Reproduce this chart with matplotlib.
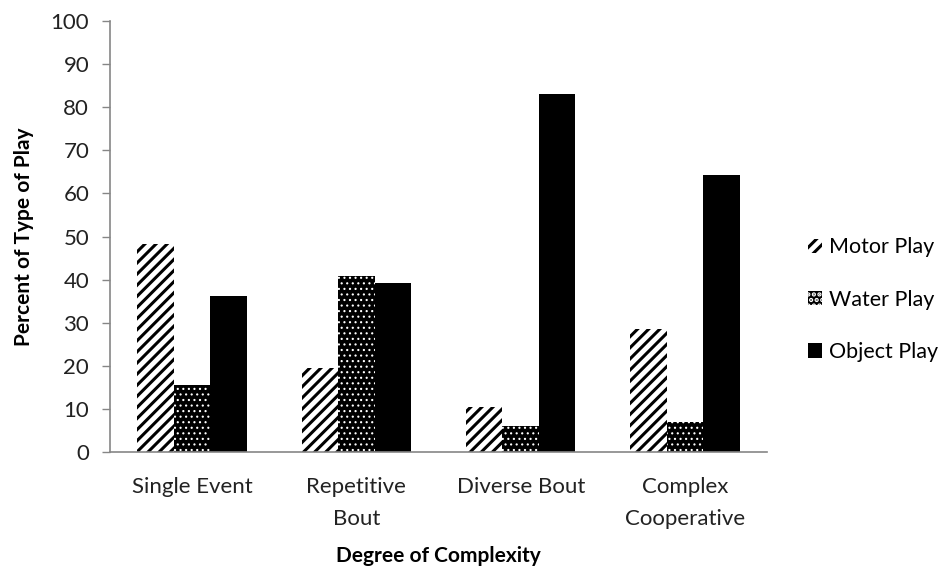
import numpy as np
import matplotlib.pyplot as plt
from matplotlib.patches import Patch

plt.rcParams['font.family'] = ['Lato', 'DejaVu Sans']
plt.rcParams['hatch.linewidth'] = 2.2

categories = ["Single Event", "Repetitive\nBout", "Diverse Bout", "Complex\nCooperative"]
series = ["Motor Play", "Water Play", "Object Play"]
motor = [48.3, 19.5, 10.5, 28.5]
water = [15.6, 40.8, 6.0, 7.0]
objct = [36.2, 39.2, 83.0, 64.2]

fig = plt.figure(figsize=(9.53, 5.71), dpi=100)
ax = fig.add_axes([0.1154, 0.2084, 0.6896, 0.7548])

x = np.arange(len(categories))
w = 0.222

ax.bar(x - w, motor, w, color="white", edgecolor="black", hatch="///", linewidth=0)
with plt.rc_context({'hatch.linewidth': 0.8}):
    ax.bar(x, water, w, color="black", edgecolor="white", hatch="...", linewidth=0)
ax.bar(x + w, objct, w, color="black", edgecolor="black", linewidth=0)

ax.set_xlim(-0.5, len(categories) - 0.5)
ax.set_ylim(0, 100)
ax.set_yticks(np.arange(0, 101, 10))
ax.set_xticks(x)
ax.set_xticklabels(categories, fontsize=16, color="#222222", linespacing=1.75)
ax.tick_params(axis="x", length=0, pad=18)
ax.tick_params(axis="y", length=6, width=1, color="#868686", labelsize=16,
               labelcolor="#222222", pad=9)
for s in ["top", "right"]:
    ax.spines[s].set_visible(False)
for s in ["left", "bottom"]:
    ax.spines[s].set_color("#868686")
    ax.spines[s].set_linewidth(1.2)

ax.set_ylabel("Percent of Type of Play", fontsize=15, fontweight="bold", labelpad=12)
ax.set_xlabel("Degree of Complexity", fontsize=15, fontweight="bold", labelpad=12)

handles = [
    Patch(facecolor="white", edgecolor="black", hatch="///", linewidth=0),
    Patch(facecolor="black", edgecolor="white", hatch="...", linewidth=0),
    Patch(facecolor="black", edgecolor="black", linewidth=0),
]
fig.legend(handles, series, loc="center left", bbox_to_anchor=(0.828, 0.475),
           frameon=False, fontsize=15.5, handlelength=0.65, handleheight=0.65,
           handletextpad=0.3, labelspacing=1.5)

fig.savefig("out.png", dpi=100)
